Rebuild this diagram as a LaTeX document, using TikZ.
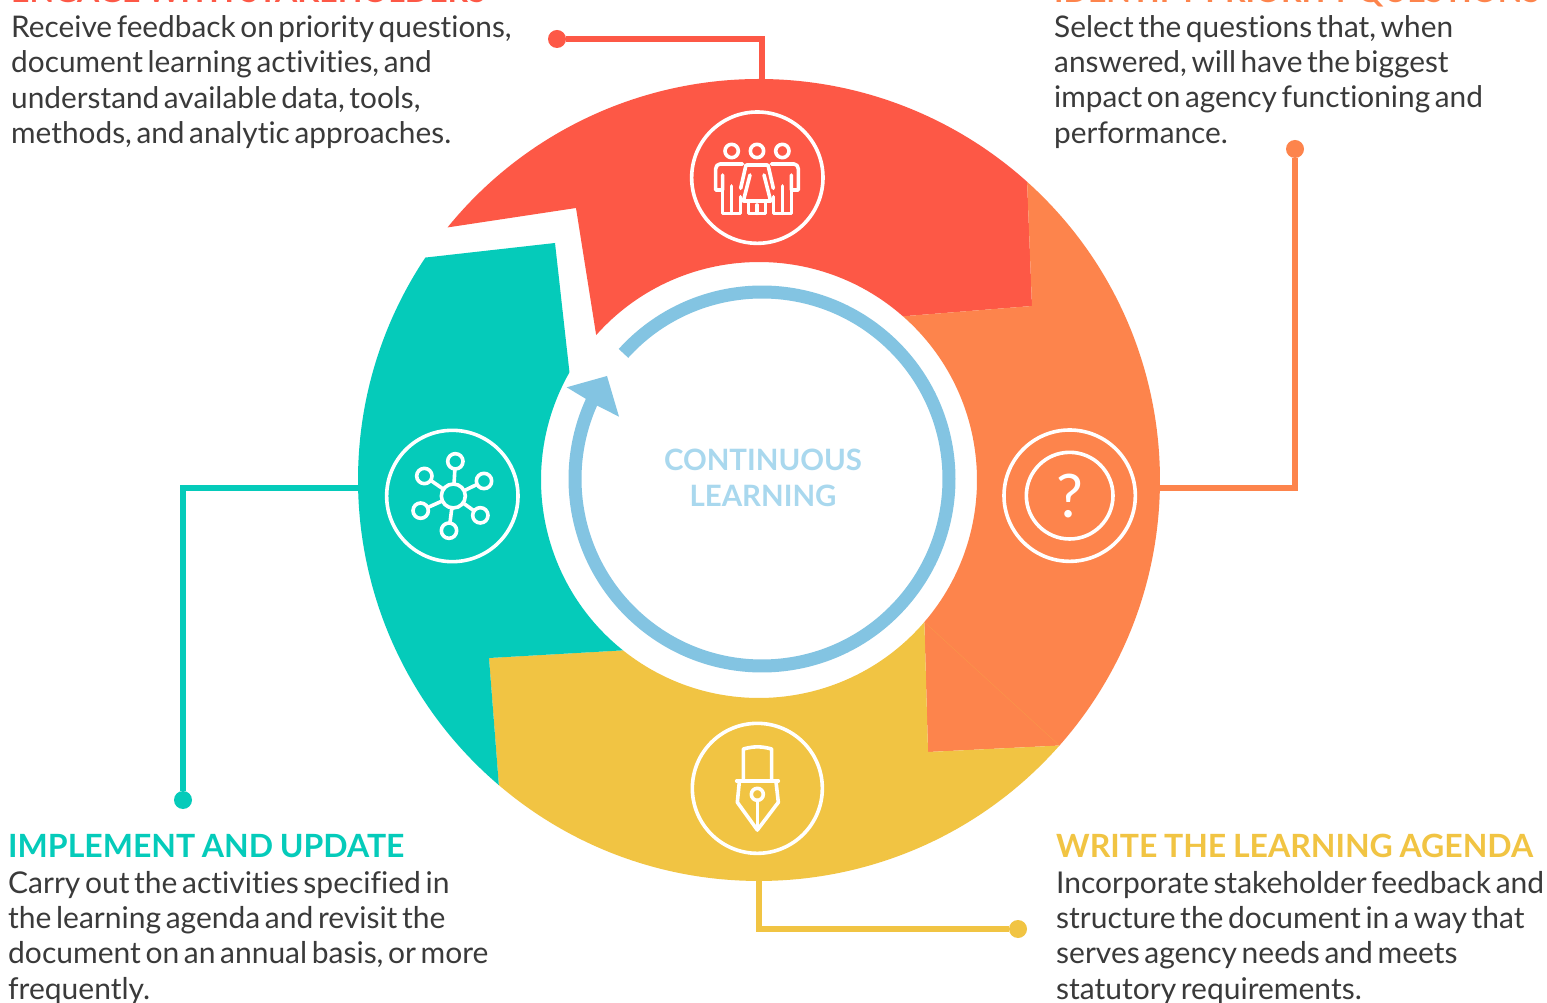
\documentclass[tikz,border=0pt]{standalone}
\usepackage{fontspec}
\setmainfont{Lato}[WordSpace=0.6,Ligatures=NoCommon]
\newfontfamily\hdfont{Lato}[WordSpace=0.85,Ligatures=NoCommon]
\definecolor{cred}{HTML}{FD5846}
\definecolor{corange}{HTML}{FD844C}
\definecolor{cyellow}{HTML}{F1C443}
\definecolor{cteal}{HTML}{05CBBA}
\definecolor{cblue}{HTML}{83C4E2}
\definecolor{clight}{HTML}{A9D8EE}
\definecolor{ctext}{HTML}{3A3A3A}
\tikzset{
  lead/.style={line width=5.5pt},
  dotnode/.style={circle,inner sep=0pt,minimum size=18pt},
  body/.style={anchor=north west,inner sep=0pt,align=left,text=ctext,font=\fontsize{30}{35.1}\selectfont},
  bodytop/.style={body,font=\fontsize{29.8}{35.3}\selectfont},
  head/.style={anchor=base west,inner sep=0pt,font=\hdfont\bfseries\fontsize{32}{36}\selectfont},
  centre/.style={inner sep=0pt,text=clight,font=\hdfont\bfseries\fontsize{29.4}{36}\selectfont},
  icon/.style={draw=white,line width=3.6pt,line cap=round,line join=round},
  iconbox/.style={x=0.33333pt,y=-0.33333pt}
}
\begin{document}
\begin{tikzpicture}[x=1pt,y=1pt]
\useasboundingbox (0,0) rectangle (1547,1002);
\clip (0,0) rectangle (1547,1002);
\fill[white] (0,0) rectangle (1547,1002);
\coordinate (C) at (759,522);
% leaders
\node[dotnode,fill=cred] (dr) at (557,963) {};
\coordinate (er) at (762,915);
\draw[lead,cred] (dr) -| (er);
\node[dotnode,fill=corange] (do) at (1295,853) {};
\coordinate (eo) at (1150,514);
\draw[lead,corange] (do) |- (eo);
\node[dotnode,fill=cteal] (dt) at (183,202) {};
\coordinate (et) at (368,514);
\draw[lead,cteal] (dt) |- (et);
\node[dotnode,fill=cyellow] (dy) at (1018,73) {};
\coordinate (ey) at (759,131);
\draw[lead,cyellow] (dy) -| (ey);
% ring segments
\fill[cred] ([shift={(C)}]140.96:401) arc[start angle=140.96,end angle=48.04,radius=401]
  -- (1032,696) -- ([shift={(C)}]48.67:218) arc[start angle=48.67,end angle=138.33,radius=218]
  -- (576,794) -- cycle;
\fill[corange] ([shift={(C)}]48.04:401) arc[start angle=48.04,end angle=-41.47,radius=401]
  -- (928,250) -- ([shift={(C)}]-40.66:218) arc[start angle=-40.66,end angle=48.67,radius=218]
  -- (1032,696) -- cycle;
\fill[cyellow] ([shift={(C)}]-41.47:401) arc[start angle=-41.47,end angle=-130.45,radius=401]
  -- (489,344) -- ([shift={(C)}]-128.6:218) arc[start angle=-128.6,end angle=-40.66,radius=218]
  -- (928,250) -- cycle;
\fill[cteal] ([shift={(C)}]229.55:401) arc[start angle=229.55,end angle=146.31,radius=401]
  -- (555,759) -- ([shift={(C)}]150.4:218) arc[start angle=150.4,end angle=231.4,radius=218]
  -- (489,344) -- cycle;
\draw[line width=0.5pt,color=cyellow!25!corange] ([shift={(C)}]-40.66:218) -- ([shift={(C)}]-41.47:401);
% blue ring
\coordinate (B) at (762,523);
\draw[cblue,line width=13pt] ([shift={(B)}]137.8:187) arc[start angle=137.8,end angle=-205.5,radius=187];
\fill[cblue] (566.7,614.7) -- (607,626) -- (619,585.3) -- (596,597) -- cycle;
% centre text
\node[centre] (c1) at (763,542) {CONTINUOUS};
\node[centre] (c2) at (763,506) {LEARNING};
% headings and bodies
\node[head,text=cred] (h1) at (11,999) {ENGAGE WITH STAKEHOLDERS};
\node[bodytop] (b1) at (11,986.5) {Receive feedback on priority questions,\\document learning activities, and\\understand available data, tools,\\methods, and analytic approaches.};
\node[head,text=corange] (h2) at (1054,999) {IDENTIFY PRIORITY QUESTIONS};
\node[bodytop] (b2) at (1054,987) {Select the questions that, when\\answered, will have the biggest\\impact on agency functioning and\\performance.};
\node[head,text=cteal] (h3) at (8,145) {IMPLEMENT AND UPDATE};
\node[body] (b3) at (8,130.5) {Carry out the activities specified in\\the learning agenda and revisit the\\document on an annual basis, or more\\frequently.};
\node[head,text=cyellow] (h4) at (1056,145) {WRITE THE LEARNING AGENDA};
\node[body] (b4) at (1056,130.5) {Incorporate stakeholder feedback and\\structure the document in a way that\\serves agency needs and meets\\statutory requirements.};
% people icon
\begin{scope}[shift={(670,902)},iconbox]
\draw[icon] (262,233) circle[radius=197];
\foreach \x in {185,261,337} \draw[icon] (\x,153) circle[radius=20];
\draw[icon] (218,192) -- (150,192) to[out=180,in=90] (137,207) -- (137,270) -- (158,270) -- (158,225);
\draw[icon] (158,270) -- (158,340) -- (212,340) -- (212,290);
\draw[icon] (185,258) -- (185,340);
\draw[icon] (304,192) -- (372,192) to[out=0,in=90] (385,207) -- (385,270) -- (364,270) -- (364,225);
\draw[icon] (364,270) -- (364,340) -- (310,340) -- (310,290);
\draw[icon] (337,258) -- (337,340);
\draw[icon] (232,195) -- (290,195);
\draw[icon] (228,195) -- (212,265);
\draw[icon] (294,195) -- (310,265);
\draw[icon] (240,225) -- (220,303) -- (302,303) -- (282,225);
\draw[icon] (235,303) -- (235,340) -- (287,340) -- (287,303);
\draw[icon] (261,315) -- (261,340);
\end{scope}
% network icon
\begin{scope}[shift={(375,582)},iconbox]
\draw[icon] (232,228) circle[radius=197];
\foreach \x/\y in {241/124,148/168,327/183,137/272,316/286,222/332}{
  \draw[icon] (235,228) -- (\x,\y);
  \draw[icon,fill=cteal] (\x,\y) circle[radius=23];
}
\draw[icon,fill=cteal] (235,228) circle[radius=36];
\end{scope}
% pen icon
\begin{scope}[shift={(680,287)},iconbox]
\draw[icon] (232,220) circle[radius=195];
\draw[icon] (190,198) -- (190,102) to[out=15,in=165] (275,102) -- (275,198);
\draw[icon] (170,198) -- (295,198);
\draw[icon] (178,200) -- (172,262) -- (232,345) -- (295,262) -- (288,200);
\draw[icon] (232,238) circle[radius=18];
\draw[icon] (232,256) -- (232,345);
\end{scope}
% question icon
\begin{scope}[shift={(990,582)},iconbox]
\draw[icon] (239,227) circle[radius=197];
\draw[icon] (239,227) circle[radius=130];
\node[inner sep=0pt,text=white,font=\fontsize{60}{60}\selectfont] (q) at (239,228) {?};
\end{scope}
\end{tikzpicture}
\end{document}
